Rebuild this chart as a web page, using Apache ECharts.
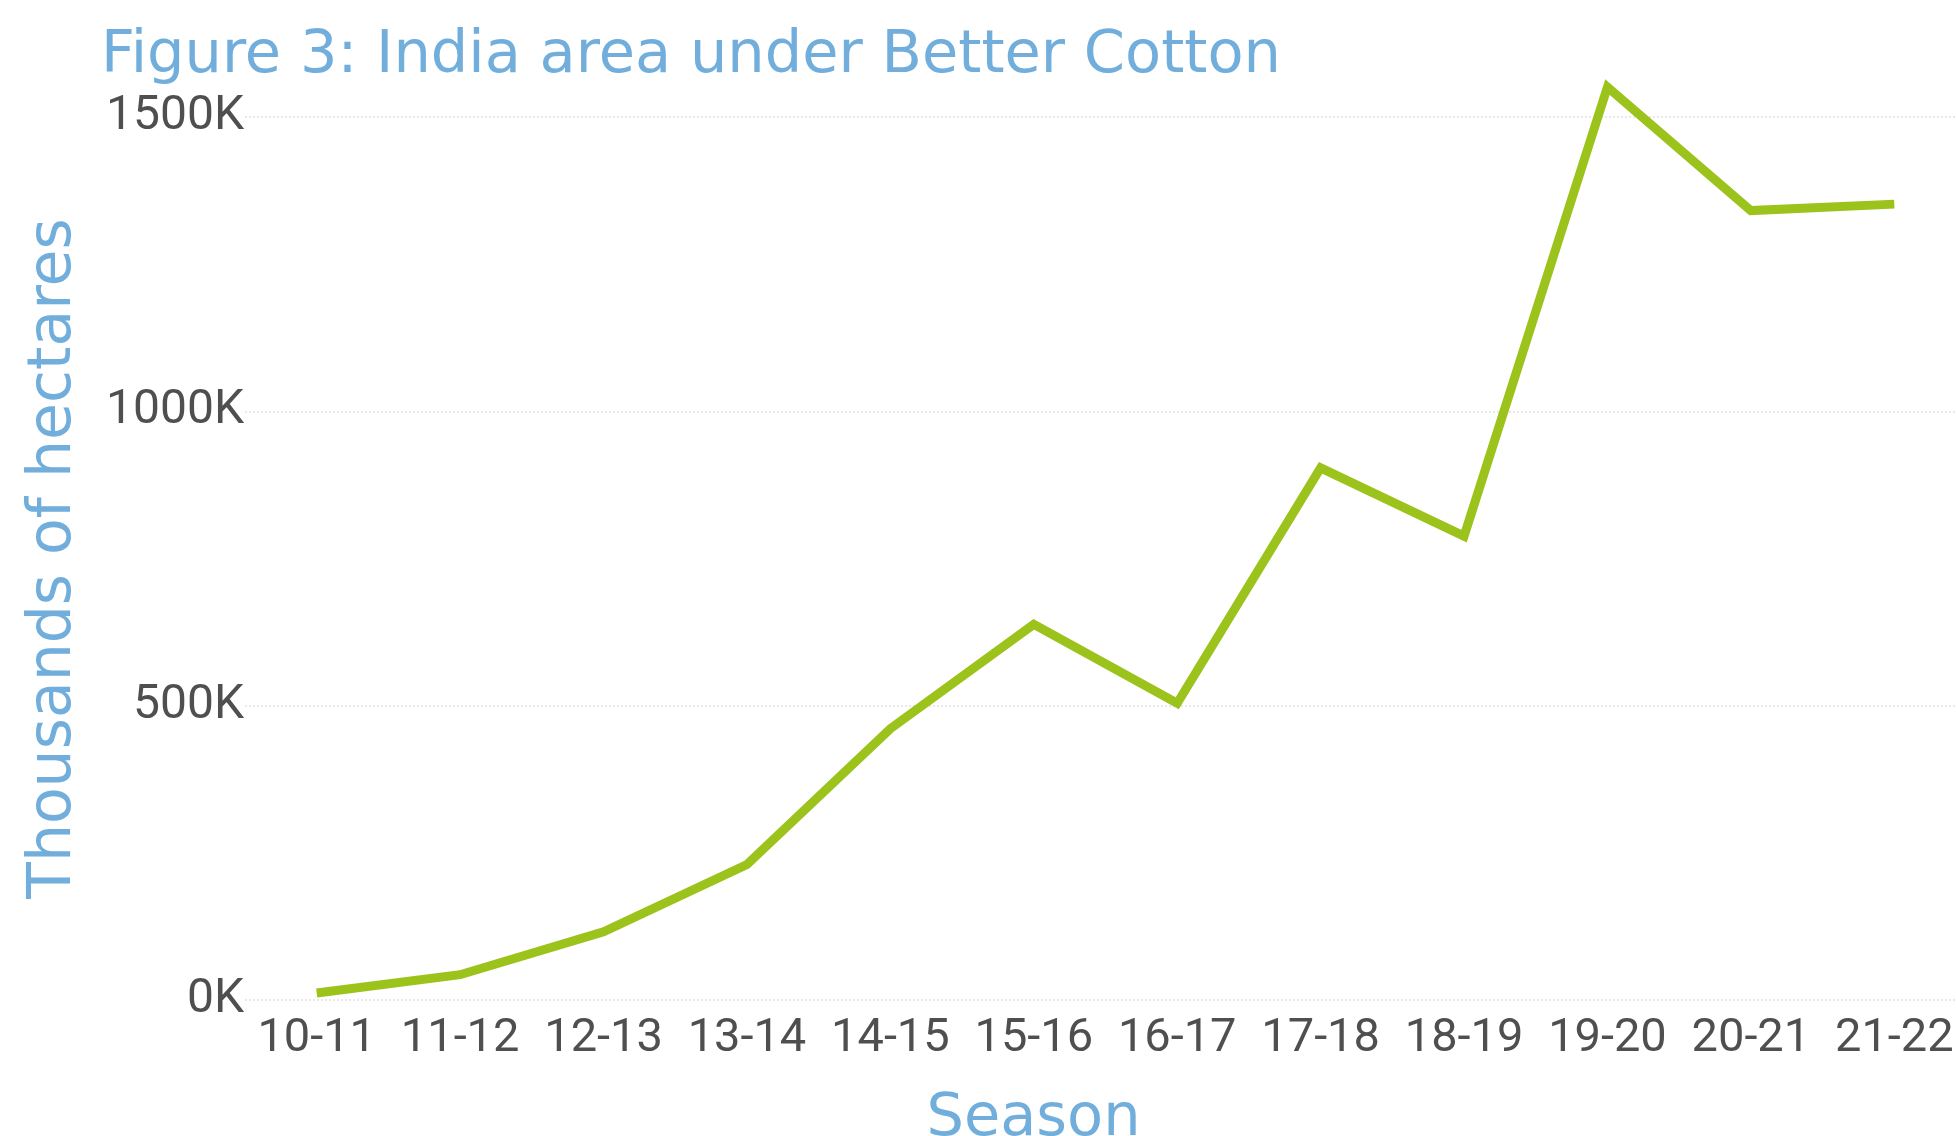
<!DOCTYPE html>
<html>
<head>
<meta charset="utf-8">
<title>India area under Better Cotton</title>
<script src="https://cdn.jsdelivr.net/npm/echarts@6/dist/echarts.min.js"></script>
<style>
  html, body { margin: 0; padding: 0; background: #fff; }
  #chart { width: 1956px; height: 1136px; }
</style>
</head>
<body>
<div id="chart"></div>
<script>
// seasons on the x axis
var seasons = ["10-11", "11-12", "12-13", "13-14", "14-15", "15-16",
  "16-17", "17-18", "18-19", "19-20", "20-21", "21-22"];
// area in hectares
var area = [12000, 43000, 116000, 230000, 461000, 638000,
  504000, 904000, 788000, 1551000, 1341000, 1352000];
var yTicks = [0, 500000, 1000000, 1500000];

var blue = "#72aedb";
var nameFont = "DejaVu Sans";
var chart = echarts.init(document.getElementById("chart"));
chart.setOption({
  animation: false,
  title: {
    text: "Figure 3: India area under Better Cotton",
    left: 96,
    top: 22,
    textStyle: { color: blue, fontFamily: nameFont, fontWeight: "normal", fontSize: 59 }
  },
  grid: { left: 245, right: -10, top: 117, bottom: 136, outerBoundsMode: "none" },
  xAxis: {
    type: "category",
    data: seasons,
    boundaryGap: true,
    axisLine: { show: false },
    axisTick: { show: false },
    axisLabel: { color: "#4f4f4f", fontFamily: "Roboto", fontSize: 47, margin: 16, interval: 0 },
    name: "Season",
    nameLocation: "middle",
    nameGap: 90,
    nameTextStyle: { color: blue, fontFamily: nameFont, fontSize: 59, padding: [0, 144, 0, 0] }
  },
  yAxis: {
    type: "value",
    min: yTicks[0],
    max: yTicks[yTicks.length - 1],
    interval: yTicks[1] - yTicks[0],
    axisLine: { show: false },
    axisTick: { show: false },
    axisLabel: {
      color: "#4f4f4f", fontFamily: "Roboto", fontSize: 48, margin: 1,
      formatter: function (v) { return v / 1000 + "K"; }
    },
    splitLine: { lineStyle: { color: "#e8e8e8", type: "dotted", width: 2 } },
    name: "Thousands of hectares",
    nameLocation: "middle",
    nameRotate: 90,
    nameGap: 161,
    nameTextStyle: { color: blue, fontFamily: nameFont, fontSize: 60 }
  },
  series: [{
    type: "line",
    data: area,
    clip: false,
    showSymbol: false,
    lineStyle: { color: "#9bc31c", width: 9, join: "miter" }
  }]
});
</script>
</body>
</html>
